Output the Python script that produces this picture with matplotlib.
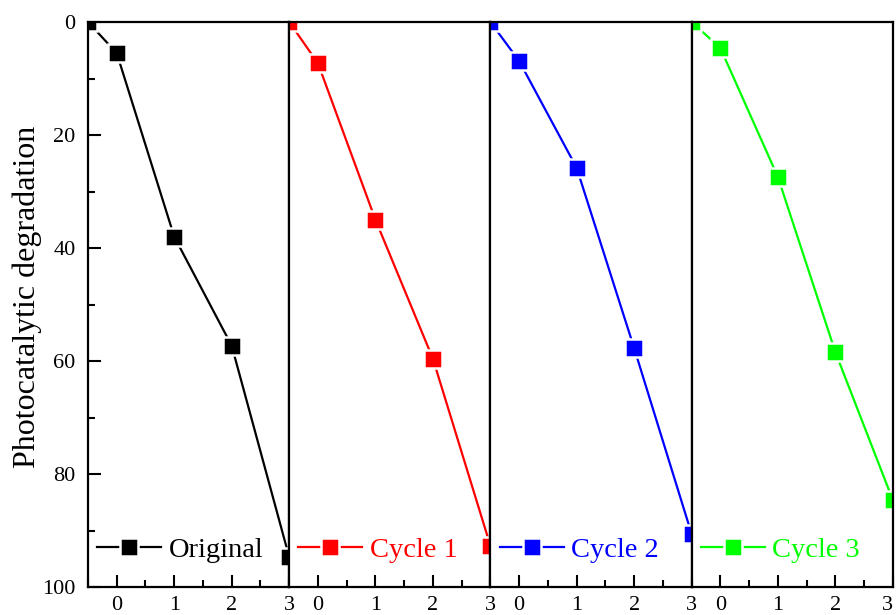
import matplotlib
matplotlib.use("Agg")
import matplotlib.pyplot as plt
from matplotlib.ticker import MultipleLocator

plt.rcParams['font.family'] = ['Liberation Serif', 'DejaVu Serif']

x_vals = [-0.5, 0, 1, 2, 3]
original = [0, 5.5, 38.0, 57.3, 94.7]
cycle1 = [0, 7.3, 35.0, 59.6, 92.7]
cycle2 = [0, 6.9, 25.8, 57.7, 90.6]
cycle3 = [0, 4.6, 27.4, 58.4, 84.6]
series = [original, cycle1, cycle2, cycle3]
labels = ["Original", "Cycle 1", "Cycle 2", "Cycle 3"]
colors = ["#000000", "#FF0000", "#0000FF", "#00FF00"]
xticks = [0, 1, 2, 3]
yticks = [0, 20, 40, 60, 80, 100]

fig = plt.figure(figsize=(8.96, 6.15), dpi=100)
left = 88 / 896
width = 201.2 / 896
bottom = 1 - 587 / 615
height = (587 - 22) / 615

for i, (ys, lab, col) in enumerate(zip(series, labels, colors)):
    ax = fig.add_axes([left + i * width, bottom, width, height])
    ax.plot(x_vals, ys, color=col, lw=1.6, marker='s', markersize=12.5,
            markeredgecolor='white', markeredgewidth=1.8, markerfacecolor=col,
            label=lab)
    ax.set_xlim(-0.5, 3)
    ax.set_ylim(100, 0)
    ax.set_xticks(xticks)
    ax.xaxis.set_minor_locator(MultipleLocator(0.5))
    ax.tick_params(axis='x', which='major', direction='in', length=9, width=1.5,
                   labelsize=16, pad=6.5)
    ax.tick_params(axis='x', which='minor', direction='in', length=5, width=1.5)
    ax.tick_params(top=False, right=False)
    for s in ax.spines.values():
        s.set_linewidth(1.6)
    if i == 0:
        ax.set_yticks(yticks)
        ax.yaxis.set_minor_locator(MultipleLocator(10))
        ax.tick_params(axis='y', which='major', direction='in', length=9, width=1.5,
                       labelsize=16, pad=9)
        ax.tick_params(axis='y', which='minor', direction='in', length=5, width=1.5)
        ax.set_ylabel("Photocatalytic degradation", fontsize=23)
        ax.yaxis.set_label_coords(-0.229, 0.514)
    else:
        ax.set_yticks([])
        ax.tick_params(axis='y', which='both', left=False, labelleft=False)
    if i == len(series) - 1:
        fig.canvas.draw()
        ax.get_xticklabels()[-1].set_horizontalalignment('right')
    leg = ax.legend(loc='lower left', bbox_to_anchor=(-0.025, 0.018), frameon=False,
                    fontsize=20.5, handlelength=2.25, handletextpad=0.25,
                    borderaxespad=0.1)
    for t in leg.get_texts():
        t.set_color(col)

fig.savefig("out.png", dpi=100)
